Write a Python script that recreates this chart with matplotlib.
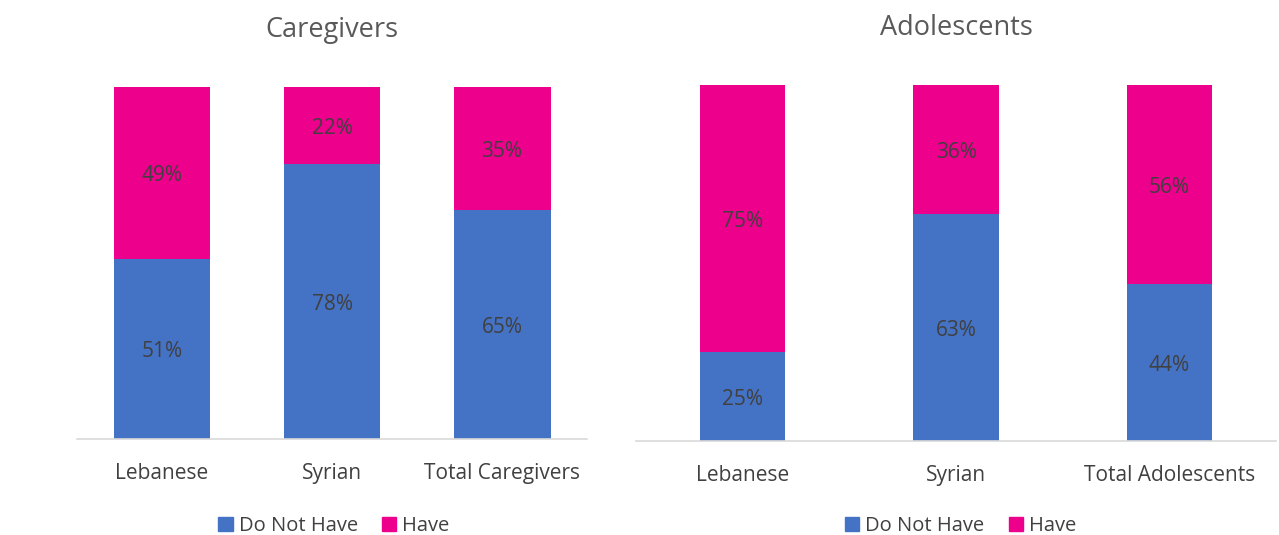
import numpy as np
import matplotlib.pyplot as plt
from matplotlib.patches import Patch

plt.rcParams['font.family'] = ['Open Sans', 'DejaVu Sans']

# data (percent)
care_cats = ["Lebanese", "Syrian", "Total Caregivers"]
care_not = [51, 78, 65]
care_have = [49, 22, 35]

ado_cats = ["Lebanese", "Syrian", "Total Adolescents"]
ado_not = [25, 63, 44]
ado_have = [75, 36, 56]

BLUE = "#4472C4"
PINK = "#EC008C"
TXT = "#404040"

fig = plt.figure(figsize=(12.79, 5.35), dpi=100)


def panel(rect, title, cats, not_have, have, width, leg_x):
    ax = fig.add_axes(rect)
    x = np.arange(len(cats))
    nh = np.array(not_have, float)
    hv = np.array(have, float)
    tot = nh + hv
    # 100% stacked
    nh_s = nh / tot
    hv_s = hv / tot
    ax.bar(x, nh_s, width, color=BLUE)
    ax.bar(x, hv_s, width, bottom=nh_s, color=PINK)
    for i in range(len(cats)):
        ax.text(x[i], nh_s[i] / 2, f"{not_have[i]}%", ha="center", va="center_baseline",
                fontsize=15, color=TXT)
        ax.text(x[i], nh_s[i] + hv_s[i] / 2, f"{have[i]}%", ha="center",
                va="center_baseline", fontsize=15, color=TXT)
    ax.set_xlim(-0.5, len(cats) - 0.5)
    ax.set_ylim(0, 1)
    ax.set_xticks(x)
    ax.set_xticklabels(cats, fontsize=15, color=TXT)
    ax.tick_params(axis="x", length=0, pad=17)
    ax.set_yticks([])
    for s in ["top", "right", "left"]:
        ax.spines[s].set_visible(False)
    ax.spines["bottom"].set_color("#D9D9D9")
    ax.spines["bottom"].set_linewidth(1.2)
    ax.set_title(title, fontsize=19.5, color="#595959", pad=36)
    handles = [Patch(color=BLUE, label="Do Not Have"), Patch(color=PINK, label="Have")]
    fig.legend(handles=handles, loc="center", bbox_to_anchor=(leg_x, 0.017),
               ncol=2, frameon=False, fontsize=14.5, handlelength=0.7, handleheight=0.7,
               handletextpad=0.3, columnspacing=1.2, labelcolor=TXT)
    return ax


panel([0.0602, 0.1794, 0.3988, 0.658], "Caregivers", care_cats, care_not, care_have,
      0.57, 0.261)
panel([0.4973, 0.1757, 0.5004, 0.6654], "Adolescents", ado_cats, ado_not, ado_have,
      0.40, 0.751)

fig.savefig("out.png", dpi=100)
